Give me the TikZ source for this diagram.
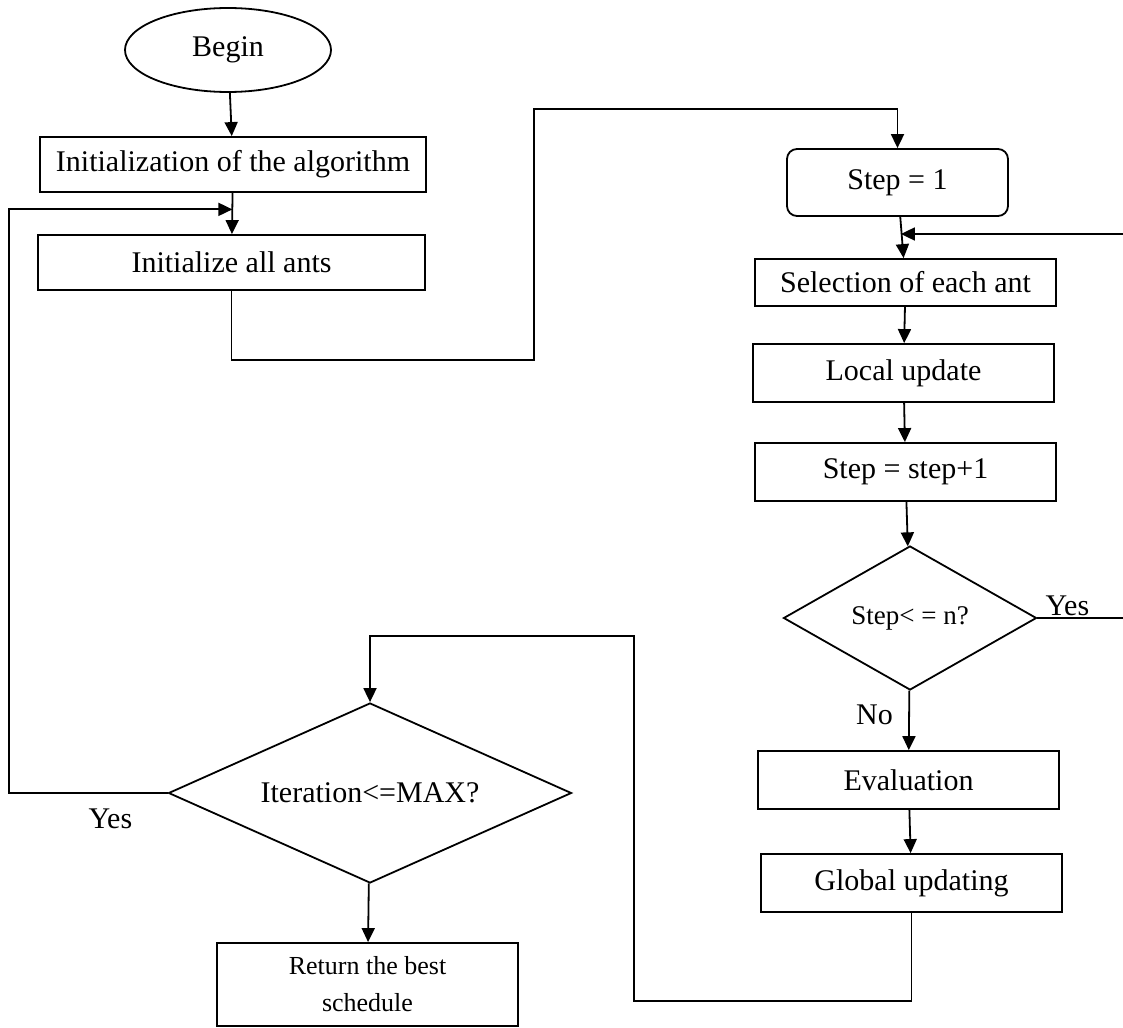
\documentclass[tikz,border=0pt]{standalone}
\usepackage{fontspec}
\setmainfont{Liberation Serif}
\usepackage{tikz}
\usetikzlibrary{arrows.meta,positioning,shapes.geometric,calc}
\newcommand{\flowfont}{\fontsize{30}{34}\selectfont}
\newcommand{\flowsmall}{\fontsize{26}{37}\selectfont}
\tikzstyle{pbox}=[rectangle,draw=black,line width=1.8pt,inner sep=0pt,
                  minimum width=301pt,minimum height=58pt,align=center]
\tikzstyle{pround}=[pbox,rounded corners=10pt]
\tikzstyle{pstart}=[ellipse,draw=black,line width=1.8pt,inner sep=0pt,
                  minimum width=206pt,minimum height=84pt]
\tikzstyle{pdec}=[diamond,draw=black,line width=1.8pt,inner sep=0pt,align=center]
\tikzstyle{arrow}=[-{Triangle[length=14pt,width=13pt]},line width=1.8pt]
\tikzstyle{conn}=[line width=1.8pt]

\begin{document}
\begin{tikzpicture}[x=1pt,y=-1pt,font=\flowfont]
      \useasboundingbox (0,0) rectangle (1123,1027);
      % left column
      \node[pstart] (begin) at (228,50) {Begin};
      \node[pbox,minimum width=386pt,minimum height=55pt] (init) at (233,164.5) {Initialization of the algorithm};
      \node[pbox,minimum width=387pt,minimum height=55pt] (ants) at (231.5,262.5) {Initialize all ants};
      \node[pdec,minimum width=403pt,minimum height=180pt,aspect=2.24] (iter) at (370,793) {Iteration<=MAX?};
      \node[pbox,minimum height=83pt,font=\flowsmall] (ret) at (367.5,984.5) {Return the best\\schedule};
      % right column
      \node[pround,minimum width=221pt,minimum height=67pt] (step1) at (897.5,182.5) {Step = 1};
      \node[pbox,minimum height=47pt] (select) at (905.5,282.5) {Selection of each ant};
      \node[pbox] (local) at (903.5,373) {Local update};
      \node[pbox] (inc) at (905.5,472) {Step = step+1};
      \node[pdec,minimum width=253pt,minimum height=144pt,aspect=1.76,font=\fontsize{27}{30}\selectfont] (stepq) at (910,618) {Step< = n?};
      \node[pbox] (eval) at (908.5,780) {Evaluation};
      \node[pbox] (global) at (911.5,883) {Global updating};
      % joints and free ends
      \coordinate (jA) at ($(init.south)!0.4!(ants.north)$);
      \coordinate (jB) at ($(step1.south)!0.42!(select.north)$);
      \coordinate (rtop) at (1123,234);
      \coordinate (ryes) at (1123,618);
      \draw[arrow] (begin)--(init);
      \draw[arrow] (init)--(ants);
      \draw[arrow] (ants.south) -- ++(0,69) -| (534,109) -| (step1.north);
      \draw[arrow] (step1)--(select);
      \draw[arrow] (rtop) -- (rtop -| jB);
      \draw[arrow] (select)--(local);
      \draw[arrow] (local)--(inc);
      \draw[arrow] (inc)--(stepq);
      \draw[conn] (stepq.east) -- node[above,pos=0.35,inner sep=1pt] {Yes} (ryes);
      \draw[arrow] (stepq) -- node[left=12pt,pos=0.4] {No} (eval);
      \draw[arrow] (eval)--(global);
      \draw[arrow] (global.south) -- ++(0,88) -| (634,636) -| (iter.north);
      \draw[arrow] (iter)--(ret);
      \draw[arrow] (iter.west) -- node[below=12pt,pos=0.36] {Yes} ++(-159,0) |- (jA);
    \end{tikzpicture}
\end{document}
